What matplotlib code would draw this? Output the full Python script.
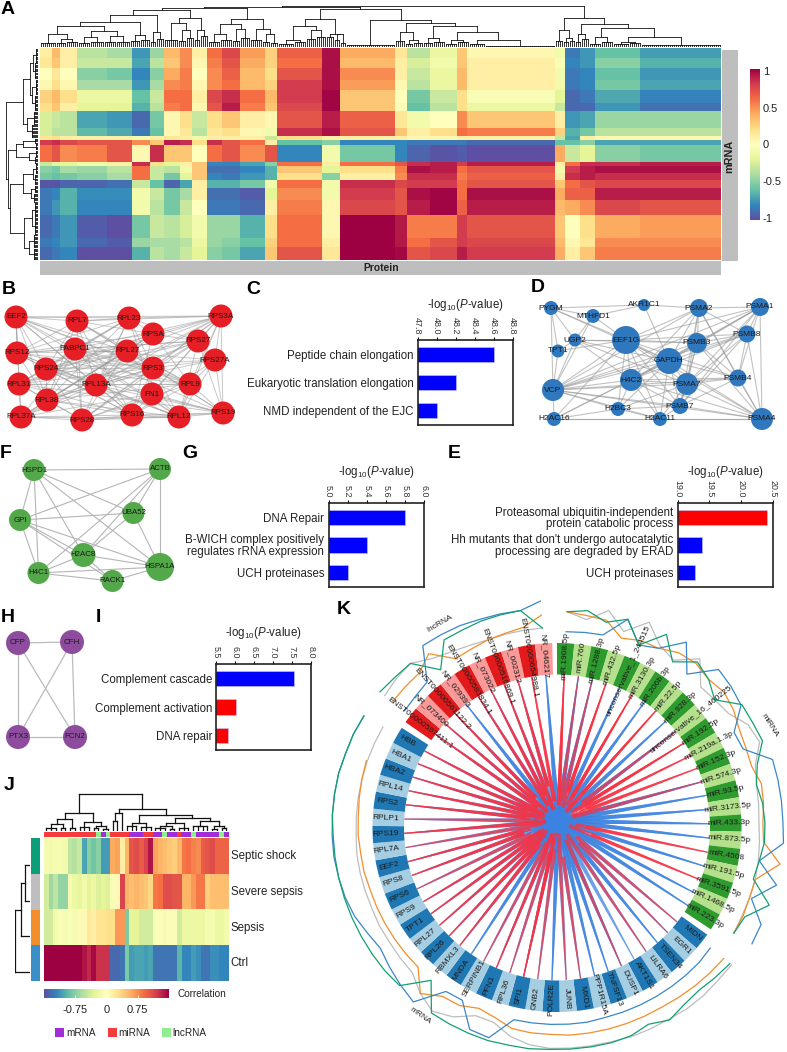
import numpy as np
import matplotlib
matplotlib.use("Agg")
import matplotlib.pyplot as plt
from matplotlib.patches import Circle, Wedge, Rectangle

W, H = 787, 1052
plt.rcParams["font.family"] = ["Liberation Sans", "DejaVu Sans"]
plt.rcParams["mathtext.fontset"] = "custom"
plt.rcParams["mathtext.rm"] = "Liberation Sans"
plt.rcParams["mathtext.it"] = "Liberation Sans:italic"

a_col_sizes = [25, 15, 35, 60, 50, 35, 28, 32, 25, 30, 30, 35, 50, 25, 90, 35, 110, 25, 45, 55, 20, 175, 20, 30, 30, 90, 162]
a_row_sizes = [30, 30, 35, 32, 38, 25, 50, 25, 12, 15, 48, 12, 23, 20, 23, 37, 45, 70, 25, 40]
a_values = [
    [.1, .35, .1, -.35, -.4, -.75, -.45, .35, .5, .1, .6, .75, .45, .25, .65, .95, .4, .15, -.35, -.15, .3, .05, -.1, -.85, -.75, -.6, -.72],
    [.15, .3, .1, -.3, -.3, -.7, -.35, .3, .5, .05, .55, .7, .4, .25, .6, .95, .35, .1, -.25, -.1, .3, .1, -.05, -.8, -.75, -.5, -.65],
    [0, .15, 0, -.5, -.55, -.8, -.5, .4, .55, 0, .5, .65, .35, .2, .7, .95, .5, .1, -.3, -.15, .35, .1, -.1, -.85, -.8, -.6, -.75],
    [.05, .2, .05, -.4, -.4, -.75, -.4, .5, .55, .05, .5, .6, .35, .25, .8, .95, .45, .05, -.35, -.15, .35, .1, -.1, -.85, -.8, -.55, -.7],
    [.25, .35, .2, -.15, -.15, -.6, -.3, .6, .6, .1, .75, .85, .6, .35, .8, .98, .3, 0, -.55, -.3, .2, -.05, -.2, -.9, -.85, -.68, -.82],
    [.2, .3, .1, -.2, -.2, -.65, -.35, .55, .6, .05, .7, .9, .55, .3, .75, .98, .3, -.05, -.6, -.35, .2, -.15, -.3, -.9, -.9, -.75, -.87],
    [-.25, -.3, -.35, -.7, -.75, -.9, -.55, .05, .2, -.3, .2, .3, .1, .05, .7, .9, .65, .15, -.1, 0, .5, .3, .1, -.75, -.7, -.45, -.45],
    [-.25, -.35, -.35, -.62, -.68, -.85, -.6, .05, .15, -.35, .15, .2, .05, -.1, .85, .95, .7, .3, .1, .2, .6, .55, .25, -.65, -.55, -.35, -.35],
    [.15, .2, .1, .1, .1, -.1, .1, .15, .1, -.1, .1, .1, .1, -.3, .2, .1, .1, .1, .05, .05, .1, .1, -.3, -.7, .1, .05, .05],
    [.8, .85, .75, .7, .7, .5, .3, .9, .85, .2, .85, .7, .6, .1, -.6, -.5, -.8, -.8, -.85, -.85, -.85, -.9, -.6, -.6, -.5, -.7, -.7],
    [.6, .7, .5, .55, .7, .05, .85, .3, .3, 0, .6, .7, .5, .7, -.8, -.1, -.55, -.8, -.92, -.97, -.95, -1.0, .4, -.3, -.2, -.5, -.55],
    [-.3, -.2, -.2, -.1, .1, .85, .2, -.2, .1, .3, -.8, -.8, -.7, -.5, .6, .1, .6, .7, .85, .9, .8, .9, .1, .6, .85, .85, .9],
    [-.5, -.55, -.4, -.45, -.35, .6, -.3, -.35, -.1, .3, -.88, -.88, -.8, -.65, .3, -.2, .2, .55, .95, .9, .6, .7, -.1, .8, .9, .95, .95],
    [-.55, -.6, -.55, -.5, -.4, .6, -.3, -.55, -.2, .3, -.8, -.85, -.75, -.65, .2, -.5, .1, .5, .85, .85, .55, .65, .1, .85, .9, .85, .85],
    [-.97, -.97, -.92, -.92, -.88, -.3, -.6, -.92, -.7, .1, -.65, -.65, -.55, -.1, .6, -.1, .85, .75, .8, .8, .6, .7, .3, .6, .7, .75, .75],
    [-.85, -.8, -.65, -.78, -.78, -.1, -.3, -.55, -.4, .1, -.88, -.88, -.95, -.2, .5, -.1, .8, .7, .95, .98, .6, .95, .4, .65, .65, .9, .9],
    [-.85, -.75, -.65, -.8, -.8, -.1, -.35, -.55, -.3, 0, -.85, -.85, -.9, .1, .55, .05, .75, .7, .9, .98, .65, .9, .35, .4, .5, .75, .7],
    [-.9, -.85, -.75, -.95, -1.0, -.55, -.3, -.35, -.25, -.1, -.45, -.45, -.65, .2, .6, .05, 1.0, .92, .55, .55, .8, .7, .3, 0, .2, .4, .45],
    [-.85, -.8, -.75, -.9, -.95, -.45, -.4, -.4, -.35, -.15, -.45, -.5, -.6, .25, .6, .1, 1.0, .92, .6, .7, .8, .75, .35, .05, .15, .5, .5],
    [-.9, -.85, -.8, -1.0, -1.0, -.65, -.35, -.4, -.3, -.2, -.5, -.55, -.7, .3, .7, .15, 1.0, .97, .7, .75, .9, .8, .4, .1, .3, .55, .55],
]

# dendrograms: (height, left, right) joins, (height, n) is a tuft of n leaves
g1ab = (62, (40, (12, 8), (24, (12, 5), (14, 6))), (48, (30, (12, 6), (14, 7)), (34, (14, 6), (16, 7))))
g2 = (88, (72, (22, 7), (50, (18, 4), (26, 4))), (50, (22, 3), (32, 4)))
g3 = (85, (70, (40, (14, 6), (20, 6)), (55, (18, 4), (26, 5))), (55, (20, 6), (38, (16, 4), (12, 4))))
g4 = (85, (62, (20, (10, 8), (14, 6)), (50, (24, 5), (30, 5))), (40, (30, 4), (38, (20, 3), (12, 3))))
g5 = (80, (5, 24), (72, (45, (18, 5), (20, (10, 4), (12, 5))), (62, (28, (12, 5), (16, 6)), (44, (20, (10, 6), (14, 6)), (20, (8, 8), (3, 35))))))
g6 = (88, (52, (18, 4), (28, (14, 3), (18, 3))), (68, (40, (14, 3), (24, 4)), (58, (30, (10, 6), (16, 6)), (30, (14, (8, 8), (12, 6)), (5, 40)))))
a_top_tree = (122, (120, (118, (110, (97, (75, g1ab, (35, (18, 5), (22, 5))), (45, (16, 3), (25, 4))), g2), g3), (113, g4, g5)), g6)
a_left_tree = (64, (30, (16, (10, (5, 11), (6, 12)), (12, (5, 12), (7, 12))), (22, (9, 10), (12, 10))),
               (60, (45, (30, (6, 4), (4, 5)), (18, (5, 5), (6, 5))),
                (56, (30, (10, (5, 8), (6, 8)), (14, (6, 6), (8, 7))), (28, (12, (6, 12), (7, 12)), (18, (8, 10), (8, 9))))))
a_ticks = [-1, -0.5, 0, 0.5, 1]
a_tick_labels = ["-1", "-0.5", "0", "0.5", "1"]

# --- networks: node names, layout, radii
b_names = ["EEF2", "RPL7", "RPL23", "RPS3A", "RPSA", "RPS27", "RPS12", "PABPC1", "RPL27", "RPS27A", "RPS24", "RPS3", "RPL31", "RPL13A", "RPL9", "FN1", "RPL38", "RPL37A", "RPS28", "RPS16", "RPL12", "RPS19"]
b_x = [16, 77, 129, 221, 153, 198, 17, 75, 127, 215, 46, 153, 19, 96, 190, 152, 47, 21, 82, 132, 179, 223]
b_y = [317, 321, 318, 316, 334, 341, 353, 349, 351, 360, 369, 368, 384, 385, 384, 394, 400, 417, 420, 415, 417, 413]
b_adj = [
    [1, 2, 3, 6, 7, 8, 10, 11, 12, 13, 14, 16, 17, 19, 20],
    [2, 3, 4, 6, 8, 10, 11, 13, 14, 16, 18, 19],
    [3, 4, 5, 6, 7, 10, 11, 12, 13, 15, 16, 18],
    [4, 5, 7, 8, 9, 10, 11, 13, 14, 17, 18, 19, 20, 21],
    [5, 6, 8, 10, 12, 13, 14, 16, 17, 19],
    [6, 7, 10, 11, 12, 13, 15, 16, 18, 20, 21],
    [7, 8, 10, 11, 13, 14, 16, 19, 20],
    [9, 11, 12, 14, 16, 17, 18, 19, 20, 21],
    [10, 12, 13, 14, 16, 17, 18, 20, 21],
    [10, 11, 13, 14, 19, 20, 21],
    [11, 12, 13, 14, 16, 18, 19, 20, 21],
    [12, 13, 14, 16, 17, 18, 19, 20, 21],
    [13, 14, 16, 17, 18, 19, 21],
    [14, 16, 17, 19, 20, 21],
    [16, 18, 19, 20, 21],
    [17, 18, 20, 21],
    [17, 18, 19, 20],
    [18, 19, 20],
    [19, 20, 21],
    [20, 21],
    [21],
    [],
]

d_names = ["PYGM", "AKR1C1", "PSMA2", "PSMA1", "MTHFD1", "UGP2", "EEF1G", "PSMB8", "PSMB3", "TPT1", "GAPDH", "PSMB4", "H4C2", "PSMA7", "VCP", "PSMB7", "H2BC3", "H2AC16", "H2AC11", "PSMA4"]
d_x = [551, 644, 699, 760, 593, 575, 626, 747, 697, 558, 669, 738, 631, 687, 553, 680, 618, 554, 660, 762]
d_y = [308, 305, 308, 307, 316, 340, 340, 334, 343, 351, 361, 378, 380, 384, 390, 406, 409, 419, 419, 419]
d_r = [7, 6, 9, 9, 7, 6.5, 14, 8.5, 10, 6.5, 13, 8.5, 11, 11, 11, 8, 7, 7, 7, 11]
d_adj = [
    [1, 4, 5, 6, 9, 14, 10],
    [4, 10, 2],
    [3, 6, 7, 8, 10, 11, 12, 13, 14, 15, 19],
    [6, 7, 8, 10, 11, 12, 13, 14, 15, 19],
    [5, 6, 14],
    [6, 10, 8, 9, 12, 14, 13],
    [7, 8, 10, 11, 12, 13, 14, 15, 16, 18, 19, 17],
    [8, 10, 11, 12, 13, 14, 15, 19],
    [10, 11, 12, 13, 14, 15, 19],
    [14, 6],
    [11, 12, 13, 14, 15, 16, 18, 19, 17],
    [12, 13, 15, 19, 14],
    [13, 14, 15, 16, 17, 18, 19],
    [14, 15, 16, 18, 19],
    [15, 16, 17, 18, 19],
    [16, 18, 19],
    [17, 18],
    [18, 19],
    [19],
    [],
]

f_names = ["HSPD1", "ACTB", "UBA52", "GPI", "H2AC8", "H4C1", "HSPA1A", "RACK1"]
f_x = [34, 160, 133.5, 20, 83.5, 38.5, 160, 112.5]
f_y = [470, 469, 513, 520, 555, 573, 567, 581]
f_r = [11, 11, 11, 11, 12, 11, 14, 11]
f_edges = [(0, 1), (0, 3), (0, 5), (0, 4), (0, 6), (0, 2), (1, 3), (1, 5), (1, 4), (1, 6), (1, 2), (2, 4), (2, 6), (2, 3),
           (3, 5), (3, 4), (3, 6), (3, 7), (4, 5), (4, 7), (4, 6), (5, 7), (5, 6), (7, 6)]

h_names = ["CFP", "CFH", "PTX3", "FCN2"]
h_x = [18, 72, 18, 75]
h_y = [643, 642, 737, 737]
h_edges = [(0, 1), (0, 2), (0, 3), (1, 2), (1, 3), (2, 3)]

# --- enrichment bars
c_terms = ["Peptide chain elongation", "Eukaryotic translation elongation", "NMD independent of the EJC"]
c_vals = [48.6, 48.2, 48.0]
c_ticks = [47.8, 48.0, 48.2, 48.4, 48.6, 48.8]
g_terms = ["DNA Repair", "B-WICH complex positively\nregulates rRNA expression", "UCH proteinases"]
g_vals = [5.8, 5.4, 5.2]
g_ticks = [5.0, 5.2, 5.4, 5.6, 5.8, 6.0]
e_terms = ["Proteasomal ubiquitin-independent\nprotein catabolic process", "Hh mutants that don't undergo autocatalytic\nprocessing are degraded by ERAD", "UCH proteinases"]
e_vals = [20.4, 19.38, 19.28]
e_cols = ["#FF0000", "#0000FF", "#0000FF"]
e_ticks = [19.0, 19.5, 20.0, 20.5]
i_terms = ["Complement cascade", "Complement activation", "DNA repair"]
i_vals = [7.55, 6.03, 5.82]
i_cols = ["#0000FF", "#FF0000", "#FF0000"]
i_ticks = [5.5, 6.0, 6.5, 7.0, 7.5, 8.0]

# --- panel J
j_rows = ["Septic shock", "Severe sepsis", "Sepsis", "Ctrl"]
j_row_cols = ["#0C9E78", "#BEBEBE", "#F28E2B", "#3A8FC9"]
j_values = [
    [-.1, -.15, -.1, -.1, -.15, -.5, -.55, -.45, -1.05, -.75, -.85, -.75, -1.1, -1.1, .6, .65, .15, .55, 1.05, 1.1, 1.0, 1.15, 1.4, .65, .55, .5, .45, .4, .55, .85, .9, .8, .75, 1.0, 1.05, 1.1, .95, .95, .95],
    [-.4, -.65, -.5, -.7, -.7, -.1, -.2, -.25, -.15, -.3, -.2, -.35, -.3, -.35, -.05, .05, 1.15, .55, .5, .55, .5, .45, .35, .85, .9, 1.1, 1.1, 1.05, 1.05, .55, .55, .7, .85, .85, .4, .5, .5, .5, .5],
    [-.4, -.4, -.15, -.05, -.1, -.05, -.1, .05, .05, .2, .15, .25, .25, .3, .3, .7, .7, -.8, -.3, -.3, -.4, -.4, -.4, -.05, -.05, -.1, -.05, -.05, -.4, -.2, -.2, -.2, -.2, -.2, -.1, -.1, -.2, -.2, -.15],
    [1.5, 1.5, 1.5, 1.5, 1.5, 1.5, 1.5, 1.5, 1.4, 1.3, 1.45, 1.25, 1.25, 1.25, -1.35, -1.35, -1.3, -.8, -1.1, -1.05, -1.05, -1.1, -1.05, -1.3, -1.3, -1.3, -1.3, -1.3, -.95, -1.2, -1.2, -1.1, -1.15, -1.3, -1.3, -1.15, -1.15, -1.2, -1.2],
]
j_types = ["miRNA"] * 11 + ["lncRNA", "mRNA", "lncRNA"] + ["miRNA"] * 4 + ["mRNA"] * 3 + ["miRNA"] * 2 + ["mRNA"] * 2 + ["lncRNA"] + ["mRNA"] * 2 + ["miRNA"] + ["mRNA"] * 2 + ["lncRNA"] + ["mRNA"] * 5 + ["lncRNA", "mRNA"]
j_type_cols = {"mRNA": "#A02FD8", "miRNA": "#F53B3B", "lncRNA": "#90EE90"}
j_top_tree = (111, (55, (36, (20, (10, 3), (8, 2)), (8, 2)), (28, (12, 3), (16, (8, 2), (6, 2)))),
              (65, (55, (31, (0, 1), (0, 1)), (0, 1)),
               (48, (24, (14, 3), (12, 3)), (38, (24, (16, (8, 3), (6, 2)), (10, 3)), (30, (14, 4), (16, (6, 2), (8, 2)))))))
j_left_tree = (45, (28, (15, (0, 1), (0, 1)), (0, 1)), (0, 1))
j_ticks = [-0.75, 0, 0.75]
j_tick_labels = ["-0.75", "0", "0.75"]

# --- panel K: clockwise from the top
mir_names = ["miR.1908.5p", "miR.760", "miR.1288.3p", "miR.432.5p", "unconservative_1_244515", "miR.3130.3p", "miR.206b.3p", "miR.22.5p", "miR.928.3p", "unconservative_16_460225", "miR.192.5p", "miR.219a.1.3p", "miR.152.3p", "miR.574.3p", "miR.93.5p", "miR.3173.5p", "miR.433.3p", "miR.873.5p", "miR.4508", "miR.191.5p", "miR.3591.5p", "miR.1468.5p", "miR.223.3p"]
mrna_names = ["MIDN", "EGR1", "TSEN34", "LILRA6", "AKT1S1", "DUSP1", "TNFSF13", "PPP1R15A", "MXD1", "JUNB", "POLR2E", "GNB2", "SPI1", "RPL36", "PFN1", "SERPINB1", "MNDA", "RBMXL3", "RPL26", "RPL27", "TPT1", "RPS9", "RPS6", "RPS8", "EEF2", "RPL7A", "RPS19", "RPLP1", "RPS2", "RPL14", "HBA2", "HBA1", "HBB"]
lnc_names = ["ENST00000597411.1", "NR_073400", "ENST00000561122.2", "NR_029393", "ENST00000583834.1", "NR_073022", "ENST00000516869.1", "NR_002312", "ENST00000654988.1", "NR_046217"]
mir_start, lnc_start, mrna_start = 0.0, 304.8, 125.5
step = 5.37

mir_track = {
    "blue": [196, 197, 198, 220, 200, 206, 226, 201, 226, 224, 221, 201, 202, 226, 226, 226, 226, 227, 205, 227, 207, 226, 227],
    "orange": [216, 214, 213, 200, 205, 206, 213, 215, 212, 215, 212, 207, 205, 204, 209, 208, 206, 207, 226, 205, 205, 206, 206],
    "gray": [216, 210, 223, 207, 225, 209, 204, 221, 201, 203, 206, 217, 220, 208, 204, 203, 202, 203, 204, 205, 205, 205, 206],
    "green": [216, 219, 211, 220, 200, 222, 202, 217, 212, 203, 222, 222, 223, 210, 204, 207, 208, 208, 205, 203, 226, 208, 206],
}
mrna_track = {
    "blue": [195, 196, 196, 196, 196, 196, 196, 196, 197, 197, 197, 197, 197, 221, 220, 197, 198, 226, 222, 218, 214, 217, 221, 223, 224, 225, 225, 225, 225, 225, 224, 224, 223],
    "orange": [212, 211, 210, 209, 208, 208, 208, 208, 208, 208, 207, 207, 206, 200, 197, 203, 204, 215, 197, 197, 197, 197, 197, 197, 198, 198, 199, 199, 200, 201, 202, np.nan, np.nan],
    "gray": [222, 222, 223, 223, 222, 222, 222, 221, 221, 221, 221, 219, 214, 205, 205, 216, 222, 215, 205, 204, 203, 203, 202, 202, 202, 202, 201, 201, 201, 201, 201, 201, 201],
    "green": [220, 218, 216, 218, 223, 217, 221, 222, 222, 222, 222, 223, 223, 224, 224, 224, 224, 198, 223, 224, 224, 224, 224, 224, 224, 224, 224, 225, 225, 225, 224, 224, 223],
}
lnc_track = {
    "blue": [192, 193, 195, 226, 225, 224, 222, 221, 220, 227],
    "orange": [207, 207, 207, 216, 197, 198, 200, 201, 203, 213],
    "gray": [217, 219, 220, 210, 205, 202, 200, 200, 200, 200],
    "green": [223, 221, 220, 196, 219, 219, 220, 220, 220, 200],
}
track_cols = {"blue": "#3A87C8", "orange": "#F28E2B", "gray": "#BDBDBD", "green": "#12A070"}

# links: (source, mRNA); sources 0-9 are lncRNA, 10-32 miRNA
red_links = [(0, 32), (1, 31), (2, 30), (4, 29), (5, 28), (6, 26), (7, 24), (8, 21), (10, 32), (10, 20), (12, 30), (13, 19), (13, 28), (15, 18), (15, 17),
             (17, 26), (17, 23), (20, 20), (20, 21), (21, 19), (21, 18), (22, 29), (22, 17), (28, 31), (28, 24), (30, 12), (30, 23), (11, 27), (23, 25), (19, 22),
             (0, 15), (1, 14), (2, 13), (4, 12), (5, 11), (6, 9), (7, 8), (8, 5), (10, 3), (13, 1), (15, 0), (17, 14), (20, 12)]
blue_links = [(0, 32), (1, 31), (2, 30), (3, 29), (3, 28), (4, 27), (5, 26), (6, 25), (7, 24), (9, 23), (9, 22), (11, 21), (12, 20), (14, 19), (14, 18), (16, 17), (16, 16), (18, 16), (18, 15),
              (19, 14), (23, 13), (24, 12), (24, 11), (25, 10), (25, 9), (26, 8), (26, 7), (27, 6), (27, 5), (29, 4), (29, 3), (31, 2), (31, 1), (32, 0), (32, 2), (19, 5), (23, 6), (11, 10), (12, 7)]
# how close each red spoke comes to the hub, in turn
red_reach = [24, 14, 32, 18, 28, 12, 36, 20, 16, 30]

fig = plt.figure(figsize=(W / 100, H / 100), dpi=100)


def px_axes(x0, y0, x1, y1, **kw):
    return fig.add_axes([x0 / W, 1 - y1 / H, (x1 - x0) / W, (y1 - y0) / H], **kw)


def draw_tree(ax, node, start, vertical=True, lw=0.8):
    # returns (centre, height) of node, drawing it leaf by leaf from start
    def seg(p, q):
        if vertical:
            ax.plot([p[0], q[0]], [p[1], q[1]], color="#111111", lw=lw, solid_capstyle="projecting")
        else:
            ax.plot([p[1], q[1]], [p[0], q[0]], color="#111111", lw=lw, solid_capstyle="projecting")
    if len(node) == 2:
        h, n = node
        if n > 1:
            seg((start + 0.5, h), (start + n - 0.5, h))
        for k in range(n):
            seg((start + k + 0.5, h), (start + k + 0.5, 0))
        return start + n / 2, h, start + n
    h, left, right = node
    c1, h1, nxt = draw_tree(ax, left, start, vertical, lw)
    c2, h2, nxt = draw_tree(ax, right, nxt, vertical, lw)
    seg((c1, h1), (c1, h))
    seg((c2, h2), (c2, h))
    seg((c1, h), (c2, h))
    return (c1 + c2) / 2, h, nxt


def bar_panel(box, terms, vals, cols, ticks, title_y, label_size=8.3):
    ax = px_axes(*box)
    pos = np.arange(len(vals))
    ax.barh(pos, vals, height=0.54, color=cols, edgecolor="#C8C8FF", linewidth=0.4)
    ax.set_xlim(ticks[0], ticks[-1])
    ax.set_ylim(2.52, -0.52)
    ax.xaxis.tick_top()
    ax.set_xticks(ticks)
    ax.set_xticklabels([f"{t:.1f}" for t in ticks], rotation=-90, fontsize=6.4, color="#333333")
    ax.set_yticks(pos)
    ax.set_yticklabels(terms, fontsize=label_size, color="#222222", linespacing=0.95)
    ax.tick_params(axis="y", length=0, pad=3)
    ax.tick_params(axis="x", length=2.5, width=0.8, pad=1.5)
    for s in ax.spines.values():
        s.set_linewidth(1.2)
        s.set_color("#222222")
    canvas.text((box[0] + box[2]) / 2, title_y, r"-log$_{10}$($\mathit{P}$-value)", fontsize=8.3, color="#222222", ha="center", va="center")
    return ax


# full figure canvas in pixel units, used for the networks and panel K
canvas = px_axes(0, 0, W, H)
canvas.set_xlim(0, W)
canvas.set_ylim(H, 0)
canvas.axis("off")

# panel A
a_grid = np.repeat(np.repeat(np.array(a_values), a_row_sizes, axis=0), a_col_sizes, axis=1)
ax_a = px_axes(40, 48, 721, 260)
ax_a.imshow(a_grid, cmap="Spectral_r", vmin=-1, vmax=1, aspect="auto", interpolation="nearest")
ax_a.axis("off")
canvas.add_patch(Rectangle((40, 261), 681, 14, fc="#BEBEBE", ec="none"))
canvas.add_patch(Rectangle((722, 50), 16, 211, fc="#BEBEBE", ec="none"))
canvas.text(381, 268, "Protein", fontsize=7.4, fontweight="bold", ha="center", va="center", color="#222222")
canvas.text(729.5, 156, "mRNA", fontsize=7.8, fontweight="bold", rotation=90, ha="center", va="center", color="#222222")
cax_a = px_axes(750, 69, 760, 220)
cax_a.imshow(np.linspace(1, -1, 256).reshape(-1, 1), cmap="Spectral_r", vmin=-1, vmax=1, aspect="auto", extent=[0, 1, -1.03, 1.03])
cax_a.set_xticks([])
cax_a.yaxis.tick_right()
cax_a.set_yticks(a_ticks)
cax_a.set_yticklabels(a_tick_labels, fontsize=8, color="#222222")
cax_a.tick_params(length=0, pad=2)
for s in cax_a.spines.values():
    s.set_visible(False)

ax_top = px_axes(40, 3, 721, 47)
ax_top.axis("off")
draw_tree(ax_top, a_top_tree, 0, True, 0.6)
ax_top.set_xlim(0, 340)
ax_top.set_ylim(0, 132)

ax_left = px_axes(5, 48, 38, 260)
ax_left.axis("off")
draw_tree(ax_left, a_left_tree, 0, False, 0.6)
ax_left.set_ylim(158, 0)
ax_left.set_xlim(66, 0)


def network(names, xs, ys, rs, edges, col, size, lw=0.8, ecol="#9A9A9A", alpha=0.7):
    for i, j in edges:
        canvas.plot([xs[i], xs[j]], [ys[i], ys[j]], color=ecol, lw=lw, alpha=alpha, zorder=2)
    for n, x, y, r in zip(names, xs, ys, rs):
        canvas.add_patch(Circle((x, y), r, fc=col, ec="none", zorder=3))
        canvas.text(x, y, n, fontsize=size, ha="center", va="center", color="#1A1A1A", zorder=4)


b_edges = [(i, j) for i, js in enumerate(b_adj) for j in js]
d_edges = [(i, j) for i, js in enumerate(d_adj) for j in js]
network(b_names, b_x, b_y, [11.5] * len(b_names), b_edges, "#E61E25", 5.8, 0.7, alpha=0.55)
network(d_names, d_x, d_y, d_r, d_edges, "#2F78BD", 6.0, 0.8, alpha=0.6)
network(f_names, f_x, f_y, f_r, f_edges, "#53A84A", 5.7, 0.8, "#B5B5B5", 1)
network(h_names, h_x, h_y, [12] * 4, h_edges, "#8E4C9E", 5.8, 0.9, "#BBBBBB", 1)

# bar panels
bar_panel((417.7, 340, 512.7, 425), c_terms, c_vals, "#0000FF", c_ticks, 305)
bar_panel((328.5, 502.7, 424, 587.3), g_terms, g_vals, "#0000FF", g_ticks, 472)
bar_panel((677.5, 502.7, 773, 587.3), e_terms, e_vals, e_cols, e_ticks, 472)
bar_panel((216.3, 664, 311.3, 750.3), i_terms, i_vals, i_cols, i_ticks, 633)

# panel J
ax_j = px_axes(44, 838.3, 228.7, 981)
ax_j.imshow(j_values, cmap="Spectral_r", vmin=-1.5, vmax=1.5, aspect="auto", interpolation="nearest")
ax_j.axis("off")
for k, (name, col) in enumerate(zip(j_rows, j_row_cols)):
    y0 = 838.3 + k * 35.7
    canvas.add_patch(Rectangle((31, y0), 9, 35.7, fc=col, ec="none"))
    canvas.text(230.7, y0 + 18, name, fontsize=8.3, color="#222222", va="center")
ax_ann = px_axes(44, 832, 228.7, 836.7)
ann_x = np.arange(len(j_types))
ax_ann.bar(ann_x + 0.5, [1] * len(j_types), width=1.0, color=[j_type_cols[t] for t in j_types])
ax_ann.set_xlim(0, len(j_types))
ax_ann.set_ylim(0, 1)
ax_ann.axis("off")

ax_jt = px_axes(44, 792, 228.7, 831)
ax_jt.axis("off")
draw_tree(ax_jt, j_top_tree, 0, True, 0.9)
ax_jt.set_xlim(0, 39)
ax_jt.set_ylim(0, 116)

ax_jl = px_axes(15, 847, 30, 990)
ax_jl.axis("off")
draw_tree(ax_jl, j_left_tree, 0, False, 0.9)
ax_jl.set_ylim(4, 0)
ax_jl.set_xlim(45, 0)

cax_j = px_axes(44, 988.7, 169, 997.7)
grad = np.linspace(-1.5, 1.5, 256).reshape(1, -1)
cax_j.imshow(grad, cmap="Spectral_r", aspect="auto", extent=[-1.5, 1.5, 0, 1])
cax_j.set_yticks([])
cax_j.set_xticks(j_ticks)
cax_j.set_xticklabels(j_tick_labels, fontsize=8, color="#222222")
cax_j.tick_params(axis="x", length=2, width=0.6, direction="in", color="white", pad=5)
for s in cax_j.spines.values():
    s.set_visible(False)
canvas.text(178, 994, "Correlation", fontsize=7.2, color="#222222", va="center")
for x_sq, x_txt, name in [(55, 66, "mRNA"), (108, 118.5, "miRNA"), (162, 172.5, "lncRNA")]:
    canvas.add_patch(Rectangle((x_sq, 1027.5), 9, 9, fc=j_type_cols[name], ec="none"))
    canvas.text(x_txt, 1032.5, name, fontsize=7.2, color="#222222", va="center")

# panel letters
for letter, x, y in [("A", 8, 10), ("B", 9, 290), ("C", 253, 290), ("D", 538, 288), ("F", 6, 453), ("G", 190, 453),
                     ("E", 454, 453), ("H", 8, 618), ("I", 98, 618), ("J", 9, 786), ("K", 344, 610)]:
    canvas.text(x, y, letter, fontsize=14, fontweight="bold", ha="center", va="center", color="black")

# panel K
cx, cy = 557, 827.5
hub = np.array([558.0, 821.0])
r_in, r_out = 153, 184.5


def to_xy(theta, r):
    t = np.radians(theta)
    return cx + r * np.sin(t), cy - r * np.cos(t)


def ring(names, start, dark, light):
    mids = []
    for k, name in enumerate(names):
        t0 = start + k * step
        canvas.add_patch(Wedge((cx, cy), r_out, t0 - 90, t0 + step - 90, width=r_out - r_in,
                               fc=dark if k % 2 == 0 else light, ec="none", zorder=5))
        mid = t0 + step / 2
        mids.append(mid)
        tx, ty = to_xy(mid, 172)
        rot = 90 - mid if mid % 360 < 180 else 270 - mid
        canvas.text(tx, ty, name, fontsize=6, rotation=rot, rotation_mode="anchor", ha="center", va="center",
                    color="#1A1A1A", zorder=6)
    return mids


mir_mid = ring(mir_names, mir_start, "#2E9B2E", "#B5E08C")
mrna_mid = ring(mrna_names, mrna_start, "#1F78B4", "#A6CEE3")
lnc_mid = ring(lnc_names, lnc_start, "#E31A1C", "#FB9A99")
source_mid = lnc_mid + mir_mid


def arm(theta, col, inner, w1, z):
    # tapered spoke from the band towards the hub, thin at the band
    p0 = np.array(to_xy(theta, r_in))
    d = p0 - hub
    u = d / np.hypot(*d)
    n = np.array([-u[1], u[0]])
    end = hub + u * inner
    pts = np.array([p0 + n * 0.55, end + n * w1, end - n * w1, p0 - n * 0.55])
    canvas.fill(pts[:, 0], pts[:, 1], color=col, alpha=0.75, lw=0, zorder=z)


for src, dst in blue_links:
    arm(source_mid[src], "#3C82E0", -3, 2.8, 4.0)
    arm(mrna_mid[dst], "#3C82E0", -3, 2.8, 4.0)
for k, (src, dst) in enumerate(red_links):
    reach = red_reach[k % len(red_reach)]
    arm(source_mid[src], "#F53345", reach, 2.0, 4.1)
    arm(mrna_mid[dst], "#F53345", reach, 2.0, 4.1)

for mids, track in [(mir_mid, mir_track), (mrna_mid, mrna_track), (lnc_mid, lnc_track)]:
    for key in ["gray", "orange", "blue", "green"]:
        xs, ys = to_xy(np.array(mids), np.array(track[key], dtype=float))
        canvas.plot(xs, ys, color=track_cols[key], lw=0.9, zorder=3)

canvas.text(440, 624, "lncRNA", fontsize=6, rotation=30, ha="center", va="center", color="#222222")
canvas.text(770, 725, "miRNA", fontsize=6, rotation=-58, ha="center", va="center", color="#222222")
canvas.text(420, 1016, "mRNA", fontsize=6, rotation=-35, ha="center", va="center", color="#222222")

fig.savefig("out.png", dpi=100)
